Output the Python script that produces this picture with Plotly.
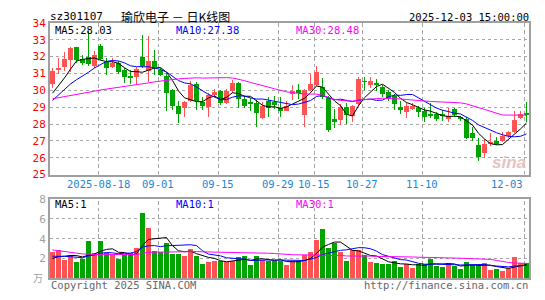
import pandas as pd
import plotly.graph_objects as go

# ---------------- data ----------------
dates = [d.strftime("%Y-%m-%d") for d in pd.bdate_range("2025-08-06", "2025-12-03")
         if not ("2025-10-01" <= d.strftime("%Y-%m-%d") <= "2025-10-08")]

open_ = [30.36, 31.2, 31.36, 31.78, 32.55, 31.85, 31.96, 31.45, 32.65, 31.7,
         31.4, 31.6, 31.2, 30.8, 30.8, 32.0, 31.17, 31.74, 31.2, 30.88,
         30.0, 29.07, 28.95, 29.35, 30.4, 29.3, 29.02, 29.7, 29.95, 29.28,
         29.97, 30.43, 29.47, 29.28, 29.26, 28.38, 29.38, 29.3, 28.93, 28.8,
         29.8, 30.0, 28.55, 30.0, 30.3, 30.2, 29.55, 28.28, 28.25, 29.03,
         28.5, 29.18, 30.55, 30.3, 30.38, 30.19, 29.92, 29.64, 29.02, 28.7,
         28.9, 28.93, 28.78, 28.53, 28.6, 28.55, 28.3, 28.89, 28.42, 28.32,
         27.5, 26.76, 26.3, 26.83, 27.0, 27.0, 27.27, 27.55, 28.38, 28.63]
high_ = [31.34, 31.9, 32.25, 32.55, 32.6, 32.1, 33.55, 32.35, 32.75, 31.95,
         31.95, 31.75, 31.3, 31.2, 31.4, 33.3, 33.25, 32.4, 31.3, 31.05,
         30.1, 29.4, 29.4, 30.55, 30.5, 29.6, 29.85, 30.1, 30.0, 30.1,
         30.6, 30.5, 29.65, 29.55, 29.45, 29.3, 29.6, 29.65, 29.6, 29.35,
         30.3, 30.4, 30.1, 30.95, 31.45, 30.75, 29.65, 28.9, 29.2, 29.28,
         29.15, 30.8, 30.8, 30.8, 30.7, 30.3, 30.0, 29.8, 29.35, 29.26,
         29.25, 29.05, 28.95, 29.26, 28.7, 28.85, 28.95, 28.98, 28.5, 28.4,
         27.85, 27.2, 27.1, 27.5, 27.25, 27.55, 27.6, 28.8, 28.8, 29.32]
low_ = [30.17, 31.0, 31.17, 31.1, 31.65, 31.5, 31.45, 31.35, 31.8, 30.9,
        31.3, 30.95, 30.45, 30.4, 30.4, 31.35, 30.5, 30.9, 30.85, 28.75,
        28.85, 28.05, 28.43, 29.3, 28.85, 28.85, 28.4, 29.55, 29.15, 29.2,
        29.85, 28.95, 28.95, 28.8, 27.85, 28.3, 28.45, 28.9, 28.4, 28.75,
        29.45, 29.5, 27.8, 29.95, 30.25, 29.5, 27.55, 27.75, 27.95, 28.02,
        28.15, 29.1, 30.0, 30.15, 29.98, 29.6, 29.4, 28.83, 28.6, 28.35,
        28.85, 28.45, 28.13, 28.38, 28.2, 28.2, 28.15, 28.4, 28.2, 27.1,
        27.0, 25.81, 25.98, 26.7, 26.75, 26.95, 27.2, 27.5, 28.3, 28.13]
close_ = [31.15, 31.35, 31.89, 32.5, 31.8, 31.65, 31.58, 32.08, 31.85, 31.35,
          31.62, 31.1, 30.77, 30.75, 31.28, 31.47, 31.74, 31.36, 30.93, 29.84,
          29.08, 28.6, 29.32, 30.3, 29.35, 29.05, 29.73, 29.88, 29.28, 29.97,
          30.43, 29.47, 29.1, 29.25, 28.64, 29.1, 28.98, 29.15, 28.75, 29.1,
          29.95, 29.83, 30.0, 30.4, 31.12, 29.58, 27.63, 28.1, 29.03, 28.55,
          29.07, 30.65, 30.5, 30.58, 30.32, 29.76, 29.52, 29.2, 28.84, 29.07,
          29.1, 28.73, 28.42, 28.5, 28.32, 28.5, 28.5, 28.52, 28.3, 27.19,
          27.19, 26.06, 26.81, 26.95, 26.81, 27.28, 27.56, 28.27, 28.62, 28.58]
volume = [2.7, 2.84, 1.9, 2.39, 1.65, 2.0, 3.74, 2.55, 3.74, 2.55,
          2.32, 2.0, 2.39, 2.55, 3.1, 6.58, 5.03, 2.77, 2.65, 3.52,
          2.48, 2.48, 2.29, 2.97, 2.23, 1.42, 1.65, 1.8, 1.8, 1.68,
          1.74, 2.13, 2.23, 1.32, 2.29, 1.9, 1.74, 1.74, 1.74, 1.35,
          1.8, 1.74, 2.39, 2.71, 3.9, 4.97, 3.1, 3.61, 2.71, 1.8,
          2.87, 2.87, 2.32, 1.68, 1.52, 1.42, 1.42, 1.8, 1.16, 1.42,
          1.03, 1.42, 1.42, 2.0, 1.26, 1.16, 1.58, 1.26, 0.94, 1.68,
          1.32, 1.32, 1.52, 0.84, 0.94, 0.71, 1.03, 2.13, 1.58, 1.58]
# estimated sessions before the visible window (only feed the moving averages)
hist_close = [29.6, 30.1, 30.3, 29.9, 29.7, 30.0, 29.8, 29.7,
              29.9, 29.6, 29.8, 29.5, 29.7, 29.9, 29.6, 29.4, 29.5, 29.57,
              27.9, 27.58,
              28.2, 28.6, 29.1, 29.3, 29.6,
              29.2, 29.5, 29.9, 29.4]
hist_volume = [5.5, 4.8, 4.2, 4.6, 4.0, 4.3, 4.07,
               2.9, 2.5, 2.8, 2.4, 2.7, 2.65, 2.7,
               2.4, 2.2, 2.5, 2.13,
               2.3, 2.15,
               2.6, 2.3, 2.7, 2.4, 2.3,
               1.9, 1.7, 2.0, 1.7]

tick_dates = ["2025-08-18", "2025-09-01", "2025-09-15", "2025-09-29",
              "2025-10-15", "2025-10-27", "2025-11-10", "2025-12-03"]
tick_text = ["2025-08-18", "09-01", "09-15", "09-29", "10-15", "10-27", "11-10", "12-03"]
price_ticks = [25, 26, 27, 28, 29, 30, 31, 32, 33, 34]
vol_ticks = [2, 4, 6, 8]

# ---------------- helpers ----------------
W, H = 545, 300
RED, GREEN = "#ff5353", "#00a400"
MONO = "DejaVu Sans Mono"
P_TOP, P_BOT = 17.7, 176.2
V_TOP, V_BOT = 201.7, 284.7


def fx(px):
    return px / W


def fy(py):
    return 1 - py / H


def ma(hist, vals, n):
    s = pd.Series(list(hist) + list(vals)).rolling(n).mean()
    return s.iloc[len(hist):].tolist()


n = len(dates)
xi = list(range(n))
up = [c >= o for o, c in zip(open_, close_)]
cols = [RED if u else GREEN for u in up]
tick_pos = [dates.index(d) for d in tick_dates]
grid_pos = [p - 1 / 3 for p in tick_pos]

fig = go.Figure()


def vgrid(lo, hi, top_px, bot_px, xa, ya):
    """dashed vertical grid lines, drawn as 1px dash segments"""
    per_px = (hi - lo) / (bot_px - top_px)
    dash, gap = 4 * per_px, 3 * per_px
    gx, gb, gh = [], [], []
    for g in grid_pos:
        b = lo
        while b < hi:
            gx.append(g)
            gb.append(b)
            gh.append(min(dash, hi - b))
            b += dash + gap
    fig.add_trace(go.Bar(x=gx, y=gh, base=gb, width=1 / 6, hoverinfo="skip",
                         marker=dict(color="#a4a4a4", line=dict(width=0)),
                         xaxis=xa, yaxis=ya))


vgrid(25, 34, P_TOP, P_BOT, "x", "y")
vgrid(0, 8, V_TOP, V_BOT, "x2", "y2")

# wicks
fig.add_trace(go.Bar(x=xi, y=[h - l for h, l in zip(high_, low_)], base=low_,
                     width=1 / 6, marker=dict(color=cols, line=dict(width=0)),
                     xaxis="x", yaxis="y", hoverinfo="skip"))
# bodies
fig.add_trace(go.Bar(x=xi, y=[max(abs(c - o), 0.05) for o, c in zip(open_, close_)],
                     base=[min(o, c) for o, c in zip(open_, close_)],
                     width=5 / 6, marker=dict(color=cols, line=dict(width=0)),
                     xaxis="x", yaxis="y", hovertext=dates))
for n_, col in [(5, "#000000"), (10, "#0000ff"), (30, "#ff00ff")]:
    fig.add_trace(go.Scatter(x=xi, y=ma(hist_close, close_, n_), mode="lines",
                             line=dict(color=col, width=1), xaxis="x", yaxis="y"))

# volume
fig.add_trace(go.Bar(x=xi, y=volume, width=5 / 6, marker=dict(color=cols, line=dict(width=0)),
                     xaxis="x2", yaxis="y2"))
for n_, col in [(5, "#000000"), (10, "#0000ff"), (30, "#ff00ff")]:
    fig.add_trace(go.Scatter(x=xi, y=ma(hist_volume, volume, n_), mode="lines",
                             line=dict(color=col, width=1), xaxis="x2", yaxis="y2"))

xr = [-5 / 12, n - 1 + 5 / 12]
xcommon = dict(range=xr, domain=[fx(50), fx(529)], showticklabels=False, ticks="",
               showgrid=False, zeroline=False, showline=True, mirror=True,
               linecolor="#a0a0a0", linewidth=2, fixedrange=True)
ycommon = dict(showgrid=True, gridcolor="#a8a8a8", griddash="dot", gridwidth=1,
               zeroline=False, showline=True, mirror=True, linecolor="#a0a0a0",
               linewidth=2, ticks="", fixedrange=True)

fig.update_layout(
    width=W, height=H, autosize=False,
    margin=dict(l=0, r=0, t=0, b=0),
    paper_bgcolor="white", plot_bgcolor="white",
    showlegend=False, barmode="overlay", bargap=0,
    xaxis=dict(**xcommon, anchor="y"),
    xaxis2=dict(**xcommon, anchor="y2"),
    yaxis=dict(**ycommon, range=[25, 34], domain=[fy(P_BOT), fy(P_TOP)],
               tickvals=price_ticks, ticktext=[str(v) for v in price_ticks],
               tickfont=dict(family=MONO, size=11, color="#ff0000"), anchor="x"),
    yaxis2=dict(**ycommon, range=[0, 8], domain=[fy(V_BOT), fy(V_TOP)],
                tickvals=vol_ticks, ticktext=[str(v) for v in vol_ticks],
                tickfont=dict(family=MONO, size=11, color="#a0a0a0"), anchor="x2"),
)

ann = []
# date labels
for p, t in zip(tick_pos, tick_text):
    last = p == tick_pos[-1]
    ann.append(dict(x=p - 0.38 if not last else p - 0.2, y=fy(186.5), xref="x", yref="paper",
                    text=t, showarrow=False, xanchor="right" if last else "center",
                    yanchor="middle",
                    font=dict(family=MONO, size=10.5, color="#1a87d6")))


def txt(x, y, s, color="#000000", size=10.5, anchor="left", family=MONO):
    ann.append(dict(x=fx(x), y=fy(y), xref="paper", yref="paper", text=s,
                    showarrow=False, xanchor=anchor, yanchor="middle", borderpad=0,
                    font=dict(family=family, size=size, color=color)))


txt(49, 11, "sz301107", size=11)
txt(120, 10.5, "瑜欣电子 － 日K线图", size=12, family="Noto Sans CJK SC")
txt(530, 11, "2025-12-03 15:00:00", size=10.5, anchor="right")
txt(54, 25.5, "MA5:28.03")
txt(174.5, 25.5, "MA10:27.38", color="#0000ff")
txt(294.5, 25.5, "MA30:28.48", color="#ff00ff")
txt(54, 207, "MA5:1")
txt(174.5, 207, "MA10:1", color="#0000ff")
txt(294.5, 207, "MA30:1", color="#ff00ff")
txt(50, 292, "Copyright 2025 SINA.COM", color="#666666")
txt(529, 292, "http://finance.sina.com.cn", color="#666666", anchor="right")
txt(44, 284, "万", color="#a0a0a0", size=10, anchor="right", family="Noto Sans CJK SC")
txt(527, 164, "<b><i>sina</i></b>", color="#e3c3c3", size=17, anchor="right", family="Liberation Sans")
fig.update_layout(annotations=ann)

fig.write_html("out.html")
